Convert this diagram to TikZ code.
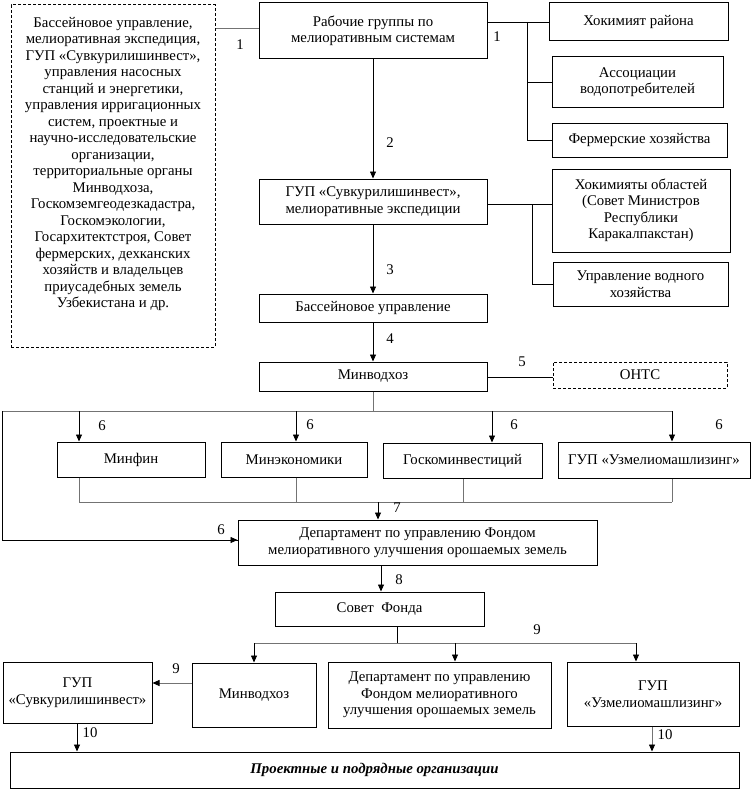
\documentclass[tikz,border=0pt]{standalone}
\usepackage{fontspec}
\setmainfont{Liberation Serif}
\usetikzlibrary{arrows.meta}
\begin{document}
\begin{tikzpicture}[x=1pt,y=-1pt,
  every node/.style={font=\fontsize{14.8}{16.5}\selectfont},
  box/.style={draw,line width=1pt,align=center,inner sep=1pt},
  dbox/.style={box,dash pattern=on 3pt off 2pt},
  ln/.style={line width=0.8pt},
  gl/.style={line width=0.8pt,black!55},
  arr/.style={line width=0.8pt,-{Triangle[length=7pt,width=6pt]}},
  garr/.style={line width=0.8pt,black!55,-{Triangle[length=7pt,width=6pt,color=black]}},
  lab/.style={inner sep=0pt}]
\useasboundingbox (0,0) rectangle (753,792);
% boxes
\node[dbox,minimum width=204pt,minimum height=342pt] (lb) at (113,176) {Бассейновое управление,\\мелиоративная экспедиция,\\ГУП «Сувкурилишинвест»,\\управления насосных\\станций и энергетики,\\управления ирригационных\\систем, проектные и\\научно-исследовательские\\организации,\\территориальные органы\\Минводхоза,\\Госкомземгеодезкадастра,\\Госкомэкологии,\\Госархитектстроя, Совет\\фермерских, дехканских\\хозяйств и владельцев\\приусадебных земель\\Узбекистана и др.\rule[-27pt]{0pt}{0pt}};
\node[box,minimum width=228pt,minimum height=56pt] (rg) at (373,31) {Рабочие группы по\\мелиоративным системам};
\node[box,minimum width=179pt,minimum height=38pt] (hr) at (638.5,22) {Хокимият района};
\node[box,minimum width=171pt,minimum height=50pt] (ass) at (637.5,82) {Ассоциации\\водопотребителей};
\node[box,minimum width=175pt,minimum height=34pt] (ferm) at (639.5,140) {Фермерские хозяйства};
\node[box,minimum width=228pt,minimum height=45pt] (gup1) at (373,201.5) {ГУП «Сувкурилишинвест»,\\мелиоративные экспедиции};
\node[box,minimum width=178pt,minimum height=83pt] (hok) at (641,210.5) {Хокимияты областей\\(Совет Министров\\Республики\\Каракалпакстан)};
\node[box,minimum width=175pt,minimum height=44pt] (uvh) at (640.5,284) {Управление водного\\хозяйства};
\node[box,minimum width=228pt,minimum height=28pt] (bass) at (373,308) {Бассейновое управление};
\node[box,minimum width=228pt,minimum height=29pt] (mvh) at (373,376.5) {Минводхоз};
\node[dbox,minimum width=174pt,minimum height=26pt] (onts) at (640,375) {ОНТС};
\node[box,minimum width=148pt,minimum height=35pt] (minfin) at (131,459.5) {Минфин};
\node[box,minimum width=146pt,minimum height=35pt] (mine) at (294,459.5) {Минэкономики};
\node[box,minimum width=159pt,minimum height=35pt] (gki) at (462.5,460.5) {Госкоминвестиций};
\node[box,minimum width=192pt,minimum height=36pt] (uzm1) at (654,460) {ГУП «Узмелиомашлизинг»};
\node[box,minimum width=359pt,minimum height=45pt] (dep) at (417.5,542.5) {Департамент по управлению Фондом\\мелиоративного улучшения орошаемых земель};
\node[box,minimum width=209pt,minimum height=34pt] (sov) at (379.5,609) {Совет~ Фонда};
\node[box,minimum width=124pt,minimum height=64pt] (mvh2) at (254,695) {Минводхоз};
\node[box,minimum width=223pt,minimum height=66pt] (dep2) at (439.5,695) {Департамент по управлению\\Фондом мелиоративного\\улучшения орошаемых земель};
\node[box,minimum width=172pt,minimum height=64pt] (uzm2) at (653,694) {ГУП\\«Узмелиомашлизинг»};
\node[box,minimum width=149pt,minimum height=61pt] (gup2) at (77.5,692.5) {ГУП\\«Сувкурилишинвест»};
\node[box,minimum width=729pt,minimum height=36pt] (bot) at (374.5,770) {\textbf{\textit{Проектные и подрядные организации}}};
% helper coordinates
\coordinate (y28) at (0,28);
\coordinate (y22) at (0,22);
\coordinate (x527) at (527,0);
\coordinate (y204) at (0,204);
\coordinate (x532) at (532,0);
\coordinate (y377) at (0,377);
\coordinate (b6) at (373,411);
\coordinate (b6L) at (2,411);
\coordinate (b6R) at (672,411);
\coordinate (y540) at (0,540);
\coordinate (x79) at (79,0);
\coordinate (x296) at (296,0);
\coordinate (x463) at (463,0);
\coordinate (x492) at (492,0);
\coordinate (x672) at (672,0);
\coordinate (b7) at (378,502);
\coordinate (b7L) at (79,502);
\coordinate (b7R) at (672,502);
\coordinate (x381) at (381,0);
\coordinate (b9) at (397,643);
\coordinate (b9L) at (254,643);
\coordinate (b9R) at (636,643);
\coordinate (x455) at (455,0);
\coordinate (y683) at (0,683);
\coordinate (x77) at (77,0);
\coordinate (x652) at (652,0);
% connectors top
\draw[gl] (lb.east |- y28) -- (rg.west |- y28);
\draw[ln] (rg.east |- y22) -- (hr.west |- y22);
\draw[ln] (x527 |- y22) -- (x527 |- ferm.west) -- (ferm.west);
\draw[ln] (x527 |- ass.west) -- (ass.west);
\draw[arr] (rg.south) -- (gup1.north);
\draw[ln] (gup1.east |- y204) -- (hok.west |- y204);
\draw[ln] (x532 |- y204) -- (x532 |- uvh.west) -- (uvh.west);
\draw[arr] (gup1.south) -- (bass.north);
\draw[arr] (bass.south) -- (mvh.north);
\draw[ln] (mvh.east |- y377) -- (onts.west |- y377);
% level 6
\draw[gl] (mvh.south) -- (b6);
\draw[gl] (b6L) -- (b6R);
\draw[ln] (b6L) -- (b6L |- y540) -- (dep.west |- y540);
\draw[arr] (b6L |- y540) -- (dep.west |- y540);
\draw[arr] (x79 |- b6) -- (x79 |- minfin.north);
\draw[arr] (x296 |- b6) -- (x296 |- mine.north);
\draw[arr] (x492 |- b6) -- (x492 |- gki.north);
\draw[arr] (x672 |- b6) -- (x672 |- uzm1.north);
% level 7
\draw[gl] (x79 |- minfin.south) -- (b7L);
\draw[gl] (x296 |- mine.south) -- (x296 |- b7);
\draw[gl] (x463 |- gki.south) -- (x463 |- b7);
\draw[gl] (x672 |- uzm1.south) -- (b7R);
\draw[gl] (b7L) -- (b7R);
\draw[arr] (b7) -- (b7 |- dep.north);
% level 8
\draw[arr] (x381 |- dep.south) -- (x381 |- sov.north);
% level 9
\draw[ln] (b9 |- sov.south) -- (b9);
\draw[gl] (b9L) -- (b9R);
\draw[arr] (b9L) -- (b9L |- mvh2.north);
\draw[arr] (x455 |- b9) -- (x455 |- dep2.north);
\draw[arr] (b9R) -- (b9R |- uzm2.north);
\draw[garr] (mvh2.west |- y683) -- (gup2.east |- y683);
% level 10
\draw[arr] (x77 |- gup2.south) -- (x77 |- bot.north);
\draw[garr] (x652 |- uzm2.south) -- (x652 |- bot.north);
% labels
\node[lab] (l1a) at (240,45) {1};
\node[lab] (l1b) at (497,37) {1};
\node[lab] (l2) at (390,143) {2};
\node[lab] (l3) at (390,270) {3};
\node[lab] (l4) at (390,339) {4};
\node[lab] (l5) at (522,362) {5};
\node[lab] (l6a) at (102,426) {6};
\node[lab] (l6b) at (310,425) {6};
\node[lab] (l6c) at (514,425) {6};
\node[lab] (l6d) at (719,425) {6};
\node[lab] (l6e) at (221,530) {6};
\node[lab] (l7) at (397,508) {7};
\node[lab] (l8) at (399,580) {8};
\node[lab] (l9a) at (537,630) {9};
\node[lab] (l9b) at (176,669) {9};
\node[lab] (l10a) at (90,733) {10};
\node[lab] (l10b) at (665,735) {10};
\end{tikzpicture}
\end{document}
